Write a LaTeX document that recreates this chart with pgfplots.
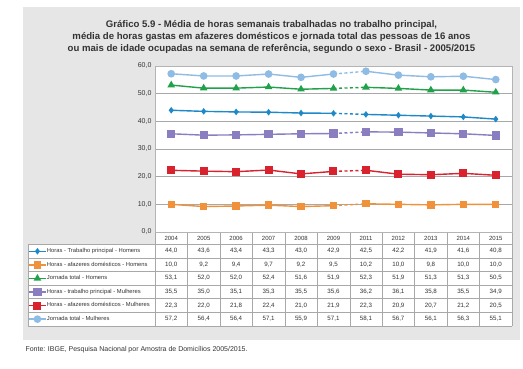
\documentclass[border=0pt]{standalone}
\usepackage{pgfplots}
\pgfplotsset{compat=1.18}
\usepackage{pgfplotstable}
\usepackage{fontspec}
\setmainfont{Liberation Sans}

\definecolor{bggray}{HTML}{E6E6E6}
\definecolor{gridgray}{HTML}{A8A8A8}
\definecolor{framegray}{HTML}{B4B4B4}
\definecolor{txt}{HTML}{333333}
\definecolor{cblue}{HTML}{1E88C8}
\definecolor{corange}{HTML}{F0923C}
\definecolor{cgreen}{HTML}{22A14B}
\definecolor{cpurple}{HTML}{8A7EC0}
\definecolor{cred}{HTML}{D8232F}
\definecolor{clblue}{HTML}{8EBCE4}

\pgfplotstableread{
idx year hth aha jth htm afm jtm
0 2004 44.0 10.0 53.1 35.5 22.3 57.2
1 2005 43.6 9.2 52.0 35.0 22.0 56.4
2 2006 43.4 9.4 52.0 35.1 21.8 56.4
3 2007 43.3 9.7 52.4 35.3 22.4 57.1
4 2008 43.0 9.2 51.6 35.5 21.0 55.9
5 2009 42.9 9.5 51.9 35.6 21.9 57.1
6 2011 42.5 10.2 52.3 36.2 22.3 58.1
7 2012 42.2 10.0 51.9 36.1 20.9 56.7
8 2013 41.9 9.8 51.3 35.8 20.7 56.1
9 2014 41.6 10.0 51.3 35.5 21.2 56.3
10 2015 40.8 10.0 50.5 34.9 20.5 55.1
}\data

\pgfplotsset{
  sHTH/.style={color=cblue, line width=1.4pt, mark=diamond*, mark size=2.2pt, mark options={solid}},
  sAHA/.style={color=corange, line width=1.4pt, mark=square*, mark size=3pt, mark options={solid}},
  sJTH/.style={color=cgreen, line width=1.4pt, mark=triangle*, mark size=3pt, mark options={solid}},
  sHTM/.style={color=cpurple, line width=1.4pt, mark=square*, mark size=3.4pt, mark options={solid}},
  sAFM/.style={color=cred, line width=1.4pt, mark=square*, mark size=3.3pt, mark options={solid}},
  sJTM/.style={color=clblue, line width=1.4pt, mark=*, mark size=3.1pt, mark options={solid}},
  gap/.style={no markers, dash pattern=on 3pt off 2.5pt, forget plot, restrict x to domain=5:6},
  part1/.style={restrict x to domain=0:5},
  part2/.style={restrict x to domain=6:10, forget plot},
}

\begin{document}
\begin{tikzpicture}[x=1pt,y=1pt]
\fill[white] (0,0) rectangle (523,369);
\fill[bggray] (23,29) rectangle (520,362);
\node[align=center, text=txt, font=\bfseries\fontsize{9.6}{11.6}\selectfont] at (271.5,332)
  {Gráfico 5.9 - Média de horas semanais trabalhadas no trabalho principal,\\
   média de horas gastas em afazeres domésticos e jornada total das pessoas de 16 anos\\
   ou mais de idade ocupadas na semana de referência, segundo o sexo - Brasil - 2005/2015};
% table background
\fill[white] (155,124.7) rectangle (512,137);
\fill[white] (28,43.3) rectangle (512,124.7);
% table grid
\foreach \k in {0,...,6} {
  \draw[gridgray, line width=0.4pt] (28,{124.7-13.57*\k}) -- (512,{124.7-13.57*\k});
}
\draw[gridgray, line width=0.4pt] (28,43.3) -- (28,124.7);
\foreach \j in {0,...,11} {
  \draw[gridgray, line width=0.4pt] ({155+32.4545*\j},43.3) -- ({155+32.4545*\j},137);
}
% header years
\foreach \i in {0,...,10} {
  \pgfplotstablegetelem{\i}{year}\of\data
  \node[text=txt, font=\fontsize{6}{7}\selectfont] at ({155+32.4545*(\i+0.5)},130.9) {\pgfplotsretval};
}
% values
\foreach \c [count=\r from 0] in {hth,aha,jth,htm,afm,jtm} {
  \foreach \i in {0,...,10} {
    \pgfplotstablegetelem{\i}{\c}\of\data
    \node[text=txt, font=\fontsize{6.2}{7}\selectfont] at ({155+32.4545*(\i+0.5)},{124.7-13.57*(\r+0.5)})
      {\pgfmathprintnumber[fixed, fixed zerofill, precision=1, use comma, assume math mode=true]{\pgfplotsretval}};
  }
}
\node[anchor=west, text=txt, font=\fontsize{7}{8}\selectfont] at (22,19)
  {Fonte: IBGE, Pesquisa Nacional por Amostra de Domicílios 2005/2015.};

\begin{axis}[
  at={(155pt,137pt)}, anchor=south west,
  scale only axis, width=357pt, height=166pt,
  xmin=-0.5, xmax=10.5, ymin=0, ymax=60,
  xtick=\empty,
  ytick={0,10,...,60},
  major tick length=0pt,
  ymajorgrids,
  grid style={gridgray, line width=0.5pt},
  axis line style={framegray, line width=0.5pt},
  axis background/.style={fill=white},
  yticklabel style={text=txt, font=\fontsize{7}{8}\selectfont,
    /pgf/number format/.cd, fixed, fixed zerofill, precision=1, use comma, assume math mode=true},
  clip=false,
  legend style={at={(axis description cs:-0.3557,-0.0741)}, anchor=north west,
    draw=none, fill=none, inner sep=0pt, row sep=0pt, column sep=0.3pt,
    font=\fontsize{5.8}{6}\selectfont, text=txt,
    nodes={inner sep=0pt, minimum height=13.57pt}},
  legend cell align=left,
]
\addplot[sHTH, part1] table[x=idx,y=hth]{\data};
\addlegendentry{Horas - Trabalho principal - Homens}
\addplot[sHTH, gap] table[x=idx,y=hth]{\data};
\addplot[sHTH, part2] table[x=idx,y=hth]{\data};

\addplot[sAHA, part1] table[x=idx,y=aha]{\data};
\addlegendentry{Horas - afazeres domésticos - Homens}
\addplot[sAHA, gap] table[x=idx,y=aha]{\data};
\addplot[sAHA, part2] table[x=idx,y=aha]{\data};

\addplot[sJTH, part1] table[x=idx,y=jth]{\data};
\addlegendentry{Jornada total - Homens}
\addplot[sJTH, gap] table[x=idx,y=jth]{\data};
\addplot[sJTH, part2] table[x=idx,y=jth]{\data};

\addplot[sHTM, part1] table[x=idx,y=htm]{\data};
\addlegendentry{Horas - trabalho principal - Mulheres}
\addplot[sHTM, gap] table[x=idx,y=htm]{\data};
\addplot[sHTM, part2] table[x=idx,y=htm]{\data};

\addplot[sAFM, part1] table[x=idx,y=afm]{\data};
\addlegendentry{Horas - afazeres domésticos - Mulheres}
\addplot[sAFM, gap] table[x=idx,y=afm]{\data};
\addplot[sAFM, part2] table[x=idx,y=afm]{\data};

\addplot[sJTM, part1] table[x=idx,y=jtm]{\data};
\addlegendentry{Jornada total - Mulheres}
\addplot[sJTM, gap] table[x=idx,y=jtm]{\data};
\addplot[sJTM, part2] table[x=idx,y=jtm]{\data};
\end{axis}
\end{tikzpicture}
\end{document}
